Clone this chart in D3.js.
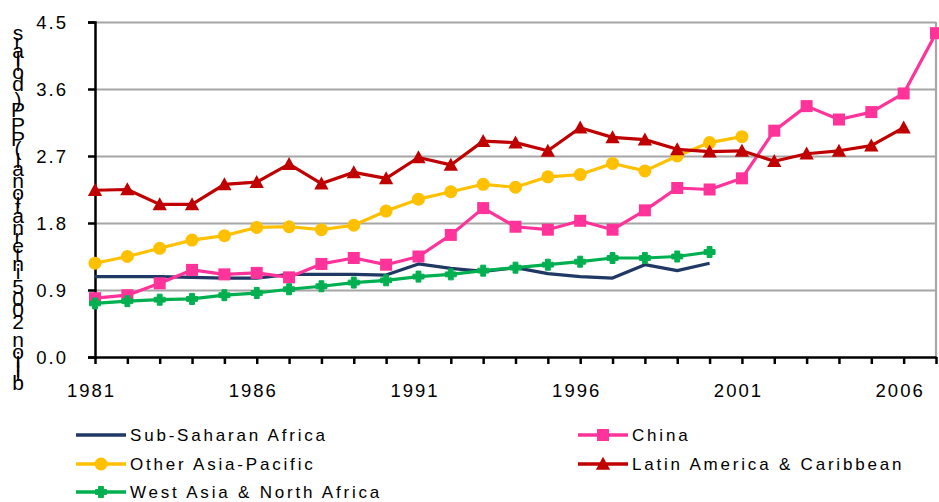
<!DOCTYPE html>
<html><head><meta charset="utf-8">
<script src="https://cdn.jsdelivr.net/npm/d3@7"></script>
<style>
body{margin:0;background:#fff}
text{font-family:Arial,"Liberation Sans",sans-serif;fill:#000}
</style>
</head><body>
<svg id="chart" width="939" height="502"></svg>
<script>
// ---- data ----
const years = [1981,1982,1983,1984,1985,1986,1987,1988,1989,1990,1991,1992,1993,1994,1995,1996,1997,1998,1999,2000,2001,2002,2003,2004,2005,2006,2007];
const xLabelYears = [1981,1986,1991,1996,2001,2006];
const yTicks = [0,0.9,1.8,2.7,3.6,4.5];
const yAxisTitle = "billion 2005 international (PPP) dollars";

const subSaharanAfrica = [1.08,1.08,1.08,1.07,1.06,1.06,1.11,1.11,1.11,1.10,1.25,1.19,1.15,1.20,1.12,1.08,1.06,1.24,1.16,1.26,null,null,null,null,null,null,null];
const china = [0.79,0.83,0.99,1.17,1.11,1.13,1.07,1.25,1.33,1.24,1.35,1.64,2.00,1.75,1.71,1.83,1.71,1.97,2.27,2.25,2.40,3.04,3.37,3.19,3.29,3.54,4.35];
const otherAsiaPacific = [1.26,1.35,1.46,1.57,1.63,1.74,1.75,1.71,1.77,1.96,2.12,2.22,2.32,2.28,2.42,2.45,2.60,2.50,2.70,2.88,2.96,null,null,null,null,null,null];
const latinAmerica = [2.24,2.25,2.05,2.05,2.32,2.35,2.59,2.33,2.48,2.40,2.68,2.58,2.90,2.88,2.77,3.08,2.95,2.92,2.79,2.76,2.77,2.63,2.73,2.77,2.84,3.08,null];
const westAsiaNorthAfrica = [0.72,0.75,0.77,0.78,0.83,0.86,0.91,0.95,1.00,1.03,1.08,1.11,1.16,1.20,1.24,1.28,1.33,1.33,1.35,1.41,null,null,null,null,null,null,null];

const seriesNames = ["Sub-Saharan Africa","China","Other Asia-Pacific","Latin America & Caribbean","West Asia & North Africa"];
const seriesValues = [subSaharanAfrica, china, otherAsiaPacific, latinAmerica, westAsiaNorthAfrica];
const seriesColors = ["#1F3864","#FF3399","#FFC000","#C00000","#00B050"];
const seriesMarkers = ["none","square","circle","triangle","cross"];

// ---- layout ----
const svg = d3.select("#chart");
const L = 95, R = 936, T = 22, B = 357;
const x = d3.scaleLinear().domain([1981,2007]).range([L,R]);
const y = d3.scaleLinear().domain([0,4.5]).range([B,T]);

// gridlines
const grid = svg.append("g").attr("transform",`translate(${L},0)`)
  .call(d3.axisLeft(y).tickValues(yTicks.filter(d=>d>0)).tickSize(-(R-L)).tickFormat(""));
grid.select(".domain").remove();
grid.selectAll("line").attr("stroke","#A6A6A6").attr("stroke-width",2.2);
// right border
svg.append("line").attr("x1",R).attr("x2",R).attr("y1",T).attr("y2",B)
  .attr("stroke","#A6A6A6").attr("stroke-width",2.2);

// y axis
const ya = svg.append("g").attr("transform",`translate(${L},0)`)
  .call(d3.axisLeft(y).tickValues(yTicks).tickSize(7).tickPadding(20).tickFormat(d3.format(".1f")));
ya.select(".domain").attr("stroke","#000").attr("stroke-width",2.5);
ya.selectAll("line").attr("stroke","#000").attr("stroke-width",2.5);
ya.selectAll("text").style("font-size","18.5px").style("letter-spacing","2px").attr("dy","0.36em");

// x axis
const xa = svg.append("g").attr("transform",`translate(0,${B})`)
  .call(d3.axisBottom(x).tickValues(years).tickSize(7).tickSizeOuter(0)
    .tickFormat(d => xLabelYears.includes(d) ? String(d) : ""));
xa.select(".domain").attr("stroke","#000").attr("stroke-width",2.5);
xa.selectAll("line").attr("stroke","#000").attr("stroke-width",2.5);
xa.selectAll("text").style("font-size","18.5px").style("letter-spacing","2px")
  .attr("dx","-4").attr("y",27).attr("dy","0.71em").attr("transform",null);

// y axis title: upright glyphs stacked along a rotated baseline
(function(){
  const g = svg.append("g");
  const fs = 21;
  const chars = Array.from(yAxisTitle);
  const tmp = g.append("text").style("font-size",fs+"px");
  const widths = chars.map(c => { tmp.text(c===" "?"\u00A0":c); return tmp.node().getComputedTextLength(); });
  tmp.remove();
  const total = d3.sum(widths);
  const top = 27, bottom = 388, k = (bottom-top)/total;
  let cum = 0;
  chars.forEach((c,i) => {
    const cy = bottom - (cum + widths[i]/2)*k;
    cum += widths[i];
    if (c === " ") return;
    g.append("text").attr("x",18).attr("y",cy).attr("text-anchor","middle")
      .attr("dominant-baseline","central").style("font-size",fs+"px").text(c);
  });
})();

// markers
function drawMarker(sel, type, color, cx, cy, s){
  if (type === "square") {
    sel.append("rect").attr("x",cx-s/2).attr("y",cy-s/2).attr("width",s).attr("height",s).attr("fill",color);
  } else if (type === "circle") {
    sel.append("circle").attr("cx",cx).attr("cy",cy).attr("r",s/2).attr("fill",color);
  } else if (type === "triangle") {
    sel.append("path").attr("d",`M${cx},${cy-s*0.55}L${cx+s*0.55},${cy+s*0.45}L${cx-s*0.55},${cy+s*0.45}Z`).attr("fill",color);
  } else if (type === "cross") {
    const a = s/2, b = s*0.22;
    sel.append("path").attr("transform",`translate(${cx},${cy})`)
      .attr("d",`M${-b},${-a}H${b}V${-b}H${a}V${b}H${b}V${a}H${-b}V${b}H${-a}V${-b}H${-b}Z`)
      .attr("fill",color).attr("stroke",color).attr("stroke-width",1).attr("stroke-linejoin","round");
  }
}
const markerSize = {square:12, circle:13, triangle:13, cross:11};

const line = d3.line().defined(d => d.v !== null).x(d => x(d.yr)).y(d => y(d.v));
seriesValues.forEach((vals,si) => {
  const data = years.map((yr,i) => ({yr, v: vals[i]}));
  const g = svg.append("g");
  g.append("path").datum(data).attr("d",line).attr("fill","none")
    .attr("stroke",seriesColors[si]).attr("stroke-width",3.2).attr("stroke-linejoin","round");
  if (seriesMarkers[si] !== "none") {
    data.filter(d => d.v !== null).forEach(d =>
      drawMarker(g, seriesMarkers[si], seriesColors[si], x(d.yr), y(d.v), markerSize[seriesMarkers[si]]));
  }
});

// legend
const legendPos = [[76,435],[578,435],[76,464],[578,464],[76,492]];
seriesNames.forEach((name,si) => {
  const [lx,ly] = legendPos[si];
  const g = svg.append("g");
  g.append("line").attr("x1",lx).attr("x2",lx+50).attr("y1",ly).attr("y2",ly)
    .attr("stroke",seriesColors[si]).attr("stroke-width",3.5);
  if (seriesMarkers[si] !== "none") drawMarker(g, seriesMarkers[si], seriesColors[si], lx+25, ly, markerSize[seriesMarkers[si]]);
  g.append("text").attr("x",lx+54).attr("y",ly).attr("dy","0.36em")
    .style("font-size","17px").style("letter-spacing","2.8px").text(name);
});
</script>
</body></html>
